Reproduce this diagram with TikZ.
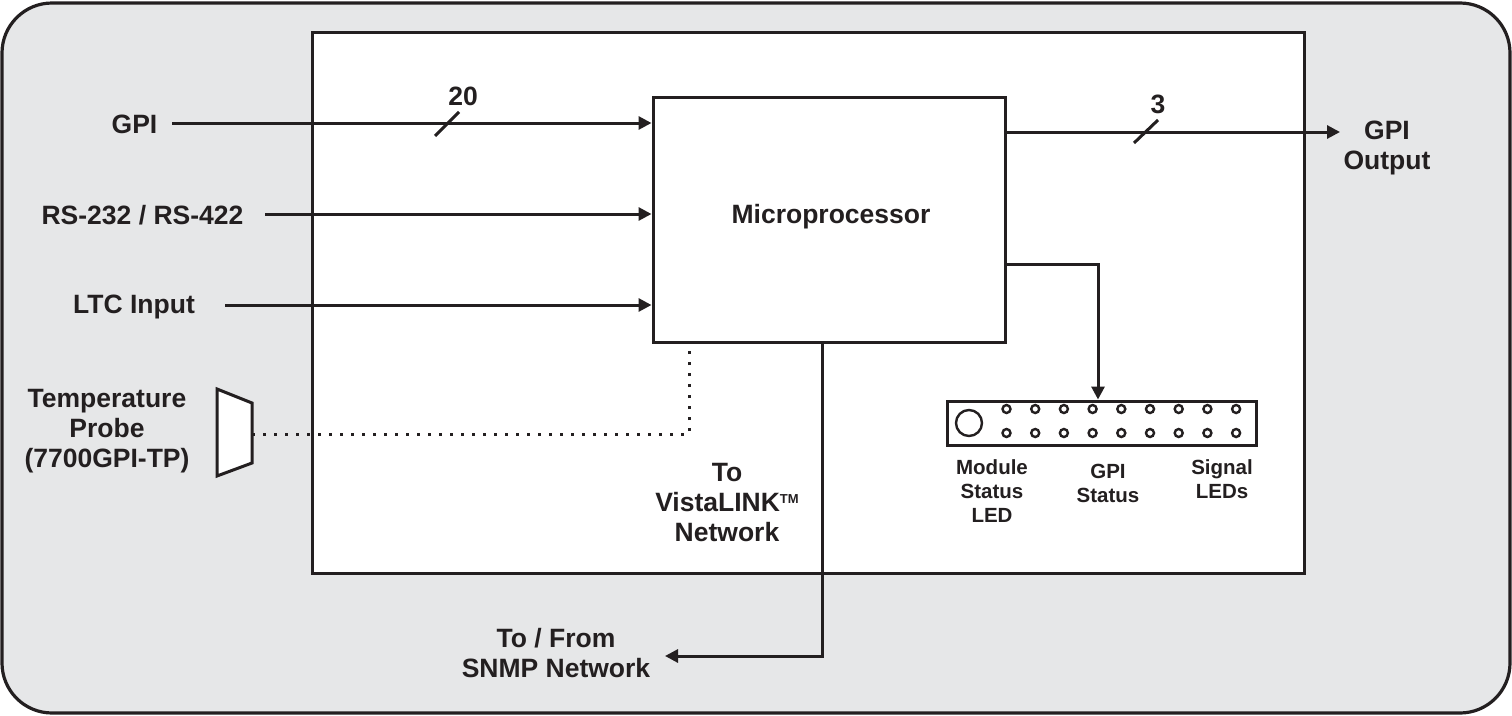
\documentclass[tikz,border=0pt]{standalone}
\usepackage{fontspec}
\setmainfont{Liberation Sans}
\usetikzlibrary{arrows.meta}
\definecolor{ink}{HTML}{231F20}
\definecolor{panel}{HTML}{E6E7E8}
\begin{document}
\begin{tikzpicture}[x=1pt,y=-1pt,
  wire/.style={draw=ink, line width=3pt},
  arr/.style={wire, -{Triangle[length=13pt,width=13pt]}},
  dotline/.style={draw=ink, line width=3pt, dash pattern=on 2.8pt off 8.2pt},
  box/.style={draw=ink, line width=3pt, fill=white, inner sep=0pt},
  lbl/.style={font=\bfseries\fontsize{26.5}{30}\selectfont, text=ink, align=center, inner sep=0pt, anchor=base},
  sml/.style={font=\bfseries\fontsize{20.5}{24}\selectfont, text=ink, align=center, inner sep=0pt, anchor=base},
  led/.style={draw=ink, line width=2.4pt, fill=white}]
\useasboundingbox (0,0) rectangle (1512,715);

% card outline and module area
\draw[draw=ink, line width=3.2pt, fill=panel, rounded corners=50pt] (2,3) rectangle (1510,713);
\node[box, minimum width=992pt, minimum height=541pt] (board) at (808,302.5) {};

% microprocessor and LED strip
\node[box, minimum width=352pt, minimum height=245pt] (mp) at (829,219.5) {};
\node[lbl] (mptext) at (831,223) {Microprocessor};
\node[box, minimum width=309pt, minimum height=44pt] (leds) at (1101.5,423) {};
\draw[led] (969,423) circle (13pt);
\foreach \i in {0,...,8} {
  \draw[led] (1006.5+28.7*\i,409) circle (4pt);
  \draw[led] (1006.5+28.7*\i,433) circle (4pt);
}

% inputs
\node[lbl] (gpi) at (134.5,133) {GPI};
\coordinate (gpiS) at (172,123);
\draw[arr] (gpiS) -- (gpiS -| mp.west);
\draw[wire] (435,136) -- (459,112);
\node[lbl] (n20) at (463,105) {20};

\node[lbl] (rs) at (142.5,224) {RS-232 / RS-422};
\coordinate (rsS) at (265,214);
\draw[arr] (rsS) -- (rsS -| mp.west);

\node[lbl] (ltc) at (134,313) {LTC Input};
\coordinate (ltcS) at (225,305);
\draw[arr] (ltcS) -- (ltcS -| mp.west);

% temperature probe (base anchor sits on the last line)
\node[lbl] (tp) at (107,467) {Temperature\\Probe\\(7700GPI-TP)};
\draw[wire, fill=white] (217,389) -- (252,403) -- (252,463) -- (217,476) -- cycle;
\coordinate (probe) at (252,434);
\draw[dotline] (probe) -| ([xshift=-140pt]mp.south);

% GPI output
\coordinate (gpoE) at (1340,132);
\draw[arr] (mp.east |- gpoE) -- (gpoE);
\draw[wire] (1134,143) -- (1158,120);
\node[lbl] (n3) at (1158,113) {3};
\node[lbl] (gpo) at (1387,169) {GPI\\Output};

% status LEDs
\draw[arr] ([yshift=-44.5pt]mp.east) -| ([xshift=-3.5pt]leds.north);
\node[sml] (lmod) at (992,522) {Module\\Status\\LED};
\node[sml] (lgpi) at (1108,502) {GPI\\Status};
\node[sml] (lsig) at (1222,498) {Signal\\LEDs};

% network
\node[lbl] (vl) at (727,541) {To\\VistaLINK\raisebox{8pt}{\fontsize{13}{13}\selectfont TM}\\Network};
\coordinate (snmpE) at (665,656);
\draw[arr] ([xshift=-7pt]mp.south) |- (snmpE);
\node[lbl] (snmp) at (556,677) {To / From\\SNMP Network};
\end{tikzpicture}
\end{document}
